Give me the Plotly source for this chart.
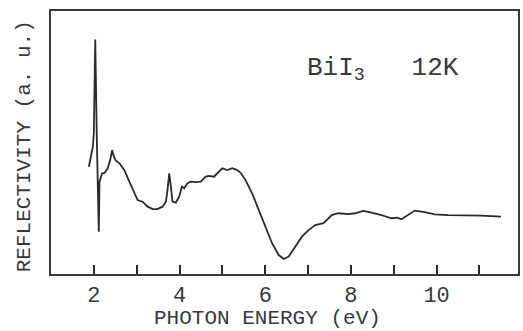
import plotly.graph_objects as go

# Photon energy (eV) and reflectivity (arbitrary units)
energy = [1.884, 1.977, 2.000, 2.033, 2.070, 2.116, 2.132, 2.195, 2.249, 2.325,
          2.381, 2.428, 2.458, 2.504, 2.597, 2.713, 2.829, 2.946, 3.022, 3.138,
          3.255, 3.371, 3.487, 3.603, 3.682, 3.719, 3.759, 3.798, 3.835, 3.914,
          3.991, 4.054, 4.107, 4.184, 4.263, 4.379, 4.495, 4.612, 4.688, 4.804,
          4.921, 4.997, 5.113, 5.230, 5.346, 5.425, 5.541, 5.694, 5.850, 6.006,
          6.159, 6.315, 6.431, 6.547, 6.703, 6.856, 7.012, 7.167, 7.360, 7.476,
          7.553, 7.709, 7.941, 8.097, 8.290, 8.482, 8.715, 8.947, 9.086, 9.179,
          9.296, 9.491, 9.723, 9.955, 10.265, 10.652, 11.038, 11.503]
reflectivity = [40.8, 48.4, 53.6, 89.2, 51.0, 16.1, 35.1, 38.3, 38.4, 40.2,
                43.3, 47.1, 45.2, 43.3, 42.1, 39.5, 35.1, 30.8, 28.1, 27.5,
                25.6, 24.7, 24.7, 25.6, 27.5, 31.9, 38.3, 33.2, 27.5, 27.1,
                29.4, 33.2, 32.6, 34.5, 35.1, 34.9, 35.1, 37.0, 37.3, 37.0,
                38.9, 40.2, 39.5, 40.2, 39.5, 38.5, 35.7, 30.7, 24.3, 18.0,
                11.7, 7.2, 5.7, 6.6, 10.4, 14.2, 16.7, 18.6, 19.3, 21.2,
                22.4, 23.1, 22.8, 23.1, 24.0, 23.3, 22.4, 21.2, 21.4, 20.8,
                22.1, 24.1, 23.5, 22.7, 22.4, 22.4, 22.2, 21.8]

tick_values = [2, 3, 4, 5, 6, 7, 8, 9, 10, 11]
tick_labels = ["2", "", "4", "", "6", "", "8", "", "10", ""]

FONT = "Liberation Mono"
INK = "#2a2a2a"
TXT = "#383838"

fig = go.Figure()
fig.add_trace(go.Scatter(x=energy, y=reflectivity, mode="lines",
                         line=dict(color=INK, width=1.8), showlegend=False))

fig.update_layout(
    width=523, height=331,
    margin=dict(l=51, r=3, t=11, b=57),
    paper_bgcolor="white", plot_bgcolor="white",
    xaxis=dict(range=[1.0, 11.9], tickvals=tick_values, ticktext=tick_labels,
               ticks="inside", ticklen=9, tickwidth=1.5, tickcolor=INK,
               showline=True, linecolor="#3a3a3a", linewidth=2, mirror=True,
               showgrid=False, zeroline=False,
               tickfont=dict(family=FONT, size=22, color=TXT)),
    yaxis=dict(range=[0, 100], showticklabels=False, ticks="",
               showline=True, linecolor="#3a3a3a", linewidth=2, mirror=True,
               showgrid=False, zeroline=False),
    annotations=[
        dict(text="PHOTON ENERGY (eV)", xref="paper", yref="paper",
             x=0.463, y=-0.171, xanchor="center", yanchor="middle", showarrow=False,
             font=dict(family=FONT, size=21, color=TXT)),
        dict(text="REFLECTIVITY (a. u.)", xref="paper", yref="paper",
             x=-0.055, y=0.487, xanchor="center", yanchor="middle", textangle=-90,
             showarrow=False, font=dict(family=FONT, size=21, color=TXT)),
        dict(text="BiI<sub>3</sub>   12K", xref="paper", yref="paper",
             x=0.71, y=0.78, xanchor="center", yanchor="middle", showarrow=False,
             font=dict(family=FONT, size=26, color=TXT)),
    ],
)

fig.write_html("out.html")
